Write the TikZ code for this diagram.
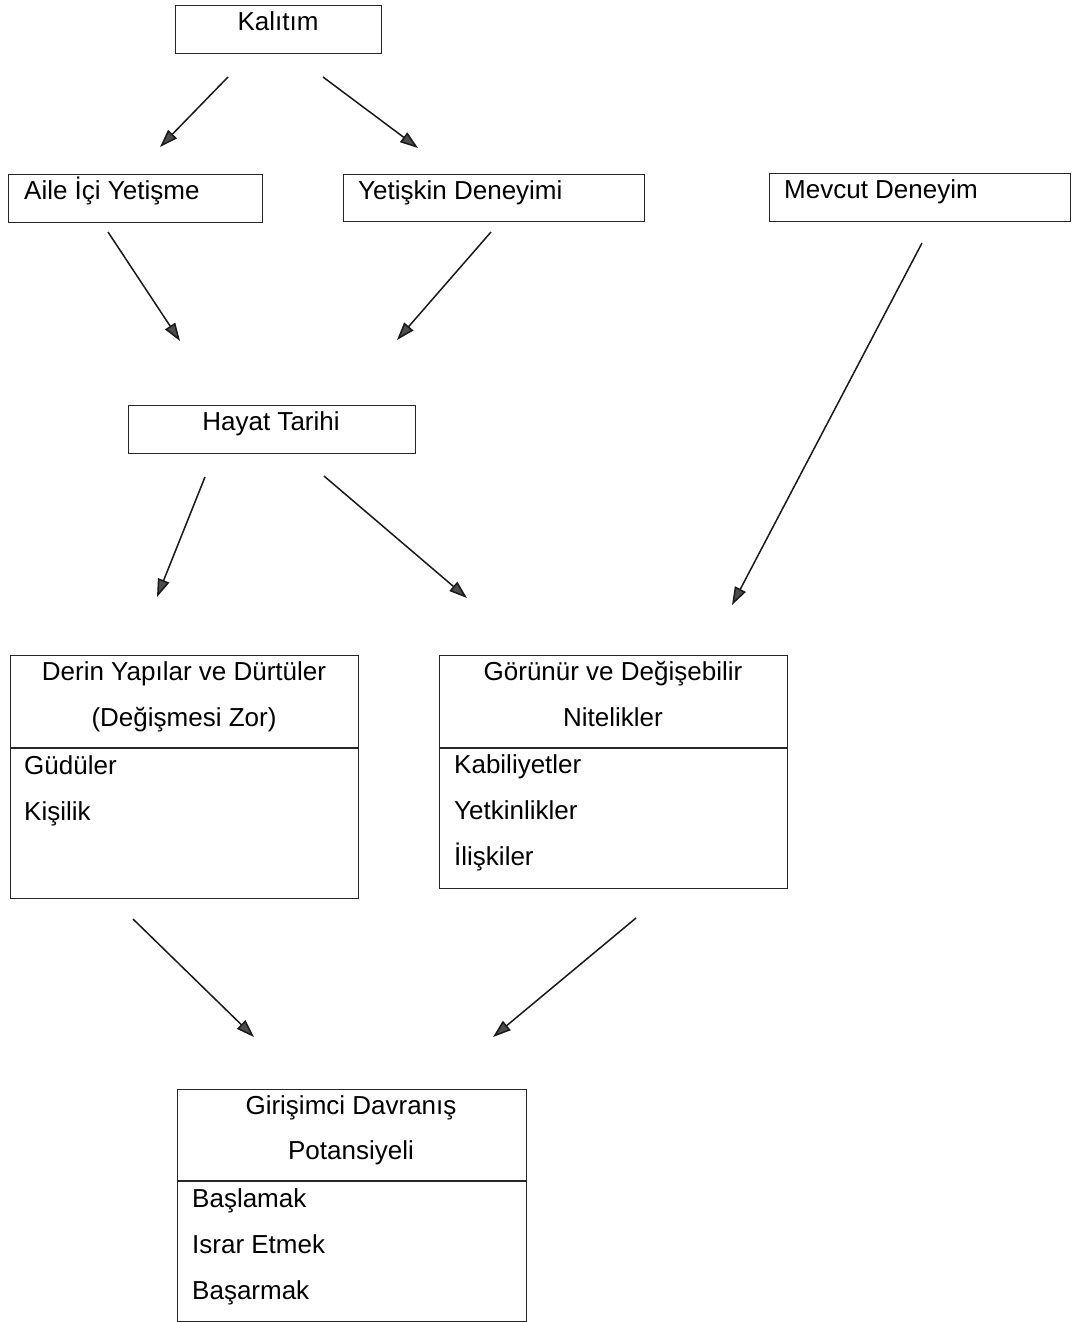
\documentclass[tikz,border=0pt]{standalone}
\usepackage{fontspec}
\setmainfont{Liberation Sans}
\usetikzlibrary{arrows.meta}
\begin{document}
\begin{tikzpicture}[x=1pt,y=-1pt,
  box/.style={draw=black!85,line width=1.2pt,rectangle,inner sep=0pt,anchor=north west},
  txt/.style={inner sep=0pt,font=\fontsize{26}{30}\selectfont},
  lt/.style={txt,anchor=base west},
  ct/.style={txt,anchor=base},
  arr/.style={draw=black!90,line width=1.5pt,-{Triangle[length=18pt,width=12pt,fill=black!70]}}]
\useasboundingbox (0,0) rectangle (1072,1322);
% boxes
\node[box,minimum width=206,minimum height=48] (b1) at (175,5) {};
\node[ct] (t1) at (278,31) {Kalıtım};
\node[box,minimum width=254,minimum height=48] (b2) at (8,174) {};
\node[lt] (t2) at (24,199) {Aile İçi Yetişme};
\node[box,minimum width=301,minimum height=47] (b3) at (343,174) {};
\node[lt] (t3) at (358,199) {Yetişkin Deneyimi};
\node[box,minimum width=301,minimum height=48] (b4) at (769,173) {};
\node[lt] (t4) at (784,198) {Mevcut Deneyim};
\node[box,minimum width=287,minimum height=48] (b5) at (128,405) {};
\node[ct] (t5) at (271,430) {Hayat Tarihi};
% Derin box
\node[box,minimum width=348,minimum height=243] (b6) at (10,655) {};
\draw[black!85,line width=1.2pt] (b6.west |- 0,748) -- (b6.east |- 0,748);
\node[ct] (t6a) at (184,680) {Derin Yapılar ve Dürtüler};
\node[ct] (t6b) at (184,726) {(Değişmesi Zor)};
\node[lt] (t6c) at (24,774) {Güdüler};
\node[lt] (t6d) at (24,820) {Kişilik};
% Görünür box
\node[box,minimum width=348,minimum height=233] (b7) at (439,655) {};
\draw[black!85,line width=1.2pt] (b7.west |- 0,748) -- (b7.east |- 0,748);
\node[ct] (t7a) at (613,680) {Görünür ve Değişebilir};
\node[ct] (t7b) at (613,726) {Nitelikler};
\node[lt] (t7c) at (454,773) {Kabiliyetler};
\node[lt] (t7d) at (454,819) {Yetkinlikler};
\node[lt] (t7e) at (454,865) {İlişkiler};
% Girişimci box
\node[box,minimum width=349,minimum height=232] (b8) at (177,1089) {};
\draw[black!85,line width=1.2pt] (b8.west |- 0,1181) -- (b8.east |- 0,1181);
\node[ct] (t8a) at (351,1114) {Girişimci Davranış};
\node[ct] (t8b) at (351,1159) {Potansiyeli};
\node[lt] (t8c) at (192,1207) {Başlamak};
\node[lt] (t8d) at (192,1253) {Israr Etmek};
\node[lt] (t8e) at (192,1299) {Başarmak};
% arrow endpoints
\coordinate (a1s) at (228,77);  \coordinate (a1e) at (160,147);
\coordinate (a2s) at (323,77);  \coordinate (a2e) at (418,148);
\coordinate (a3s) at (108,232); \coordinate (a3e) at (180,341);
\coordinate (a4s) at (491,232); \coordinate (a4e) at (397,340);
\coordinate (a5s) at (922,243); \coordinate (a5e) at (732,605);
\coordinate (a6s) at (205,477); \coordinate (a6e) at (157,597);
\coordinate (a7s) at (324,476); \coordinate (a7e) at (467,598);
\coordinate (a8s) at (133,919); \coordinate (a8e) at (254,1037);
\coordinate (a9s) at (636,918); \coordinate (a9e) at (493,1037);
\foreach \i in {1,...,9} \draw[arr] (a\i s) -- (a\i e);
\end{tikzpicture}
\end{document}
